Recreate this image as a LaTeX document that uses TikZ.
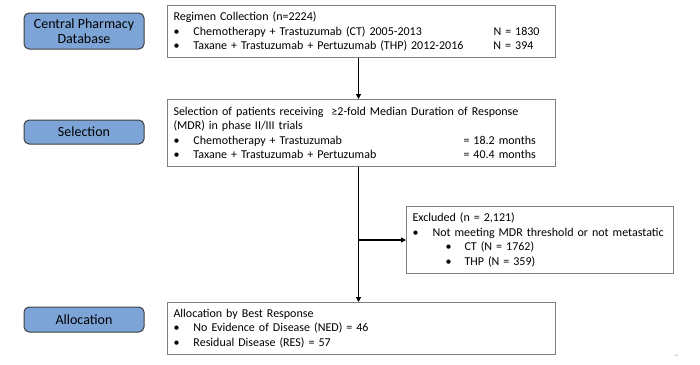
\documentclass[tikz,border=0pt]{standalone}
\usepackage{fontspec}
\setmainfont{Carlito}
\newfontfamily\symfont{DejaVu Sans}
\usetikzlibrary{arrows.meta}

\definecolor{stageblue}{RGB}{124,164,214}
\definecolor{stageline}{RGB}{64,64,64}
\definecolor{boxline}{RGB}{128,128,128}

\tikzset{every picture/.style={line width=0.75pt}}
\tikzset{
  stagebox/.style={draw=stageline, fill=stageblue, rounded corners=5pt, line width=1pt,
    minimum width=120, align=center, inner sep=1pt, font=\fontsize{14}{15.5}\selectfont},
  txtbox/.style={draw=boxline, line width=1pt, anchor=north west, minimum width=388,
    inner xsep=6, inner ysep=3, text width=376, align=left, font=\fontsize{12}{14.5}\selectfont},
  flow/.style={line width=1.6pt, -{Triangle[length=5pt,width=5pt]}}
}
\newcommand{\bul}{\makebox[20pt][l]{\textbullet}}

\begin{document}
\begin{tikzpicture}[x=1pt,y=1pt,yscale=-1,xscale=1]
	\useasboundingbox (0,0) rectangle (700,364);

	%Shape: Rounded Rectangle [stages]
	\node [stagebox, minimum height=36] (central) at (84,31) {Central Pharmacy\\Database};
	\node [stagebox, minimum height=24] (selstage) at (84,132) {Selection};
	\node [stagebox, minimum height=25] (allocstage) at (84,319.5) {Allocation};

	%Shape: Rectangle [regimen]
	\node [txtbox, minimum height=52] (regimen) at (167,5) {Regimen Collection (n=2224)\\
		\makebox[320pt][l]{\bul Chemotherapy + Trastuzumab (CT) 2005-2013}N = 1830\\
		\makebox[320pt][l]{\bul Taxane + Trastuzumab + Pertuzumab (THP) 2012-2016}N = 394};
	%Shape: Rectangle [selection]
	\node [txtbox, minimum height=67] (selection) at (167,99) {Selection of patients receiving \ ≥2-fold Median Duration of Response (MDR) in phase II/III trials\\
		\makebox[290pt][l]{\bul Chemotherapy + Trastuzumab}= 18.2 months\\
		\makebox[290pt][l]{\bul Taxane + Trastuzumab + Pertuzumab}= 40.4 months};
	%Shape: Rectangle [excluded]
	\node [txtbox, minimum width=267, text width=255, minimum height=67] (excluded) at (406,206) {Excluded (n = 2,121)\\
		\bul Not meeting MDR threshold or not metastatic\\
		\hspace*{33pt}\makebox[19pt][l]{\textbullet}CT (N = 1762)\\
		\hspace*{33pt}\makebox[19pt][l]{\textbullet}THP (N = 359)};
	%Shape: Rectangle [allocation]
	\node [txtbox, minimum height=52] (allocation) at (167,302) {Allocation by Best Response\\
		\bul No Evidence of Disease (NED) = 46\\
		\bul Residual Disease (RES) = 57};

	%Straight Lines [arrows]
	\draw [flow] ([xshift=-3pt]regimen.south) -- ([xshift=-3pt]selection.north);
	\draw [flow] ([xshift=-3pt]selection.south) -- ([xshift=-3pt]allocation.north);
	\coordinate (branch) at ([xshift=-3pt]selection.south |- excluded.west);
	\draw [flow] ([xshift=-0.8pt]branch) -- (excluded.west);

	% Text Node
	\node [text=black!30, font=\symfont\fontsize{5}{5}\selectfont] (mark) at (677,356) {↵};

\end{tikzpicture}
\end{document}
